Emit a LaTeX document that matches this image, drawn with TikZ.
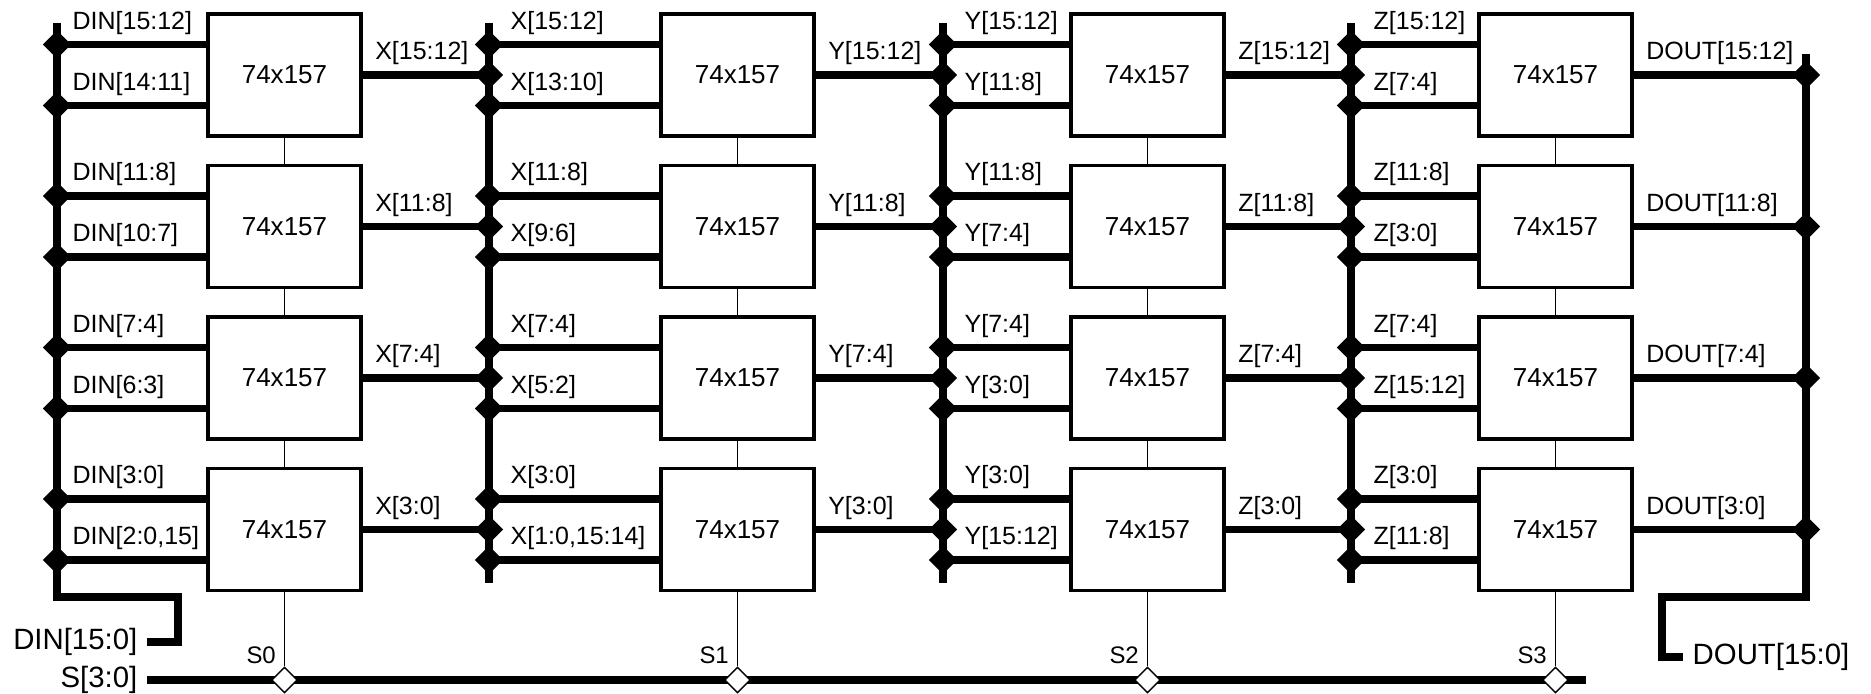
\documentclass[tikz,border=0pt]{standalone}
\usepackage{fontspec}
\setmainfont{Liberation Sans}
\usetikzlibrary{calc,shapes.geometric}

\begin{document}
\begin{tikzpicture}[
  x=0.01cm, y=-0.01cm,
  chipbox/.style={
    rectangle,
    draw=black,
    line width=0.9pt,
    fill=white,
    minimum width=1.53cm,
    minimum height=1.22cm,
    inner sep=0pt,
    font=\fontsize{7.4}{9}\selectfont
  },
  bus/.style={draw=black, line width=2pt},
  ctl/.style={draw=black, line width=0.45pt},
  joint/.style={
    diamond,
    fill=black,
    minimum size=0.29cm,
    inner sep=0pt
  },
  tap/.style={
    diamond,
    draw=black,
    line width=0.4pt,
    fill=white,
    minimum size=0.26cm,
    inner sep=0pt
  },
  sig/.style={
    anchor=base west,
    inner sep=0pt,
    font=\fontsize{7.1}{9}\selectfont
  },
  sel/.style={
    anchor=base east,
    inner sep=0pt,
    font=\fontsize{6.8}{9}\selectfont
  },
  port/.style={
    inner xsep=0.09cm,
    inner ysep=0pt,
    font=\fontsize{8.35}{10}\selectfont
  }
]
\useasboundingbox (0,0) rectangle (1871,694);

\foreach \c/\cl/\bx/\nx/\lx in {0/208/57/489/72, 1/661/489/943/510, 2/1071/943/1351/964, 3/1479/1351/1806/1373} {
  \coordinate (lab\c) at (\lx,0);
  \foreach \r/\cy in {0/75,1/226.5,2/378,3/529.5} {
    \node[chipbox] (chip\c\r) at (\cl+76.5,\cy) {74x157};
    \node[joint] (ina\c\r) at (\bx,\cy-30.5) {};
    \node[joint] (inb\c\r) at (\bx,\cy+30.5) {};
    \node[joint] (out\c\r) at (\nx,\cy) {};
    \draw[bus] (ina\c\r.center) -- (ina\c\r.center -| chip\c\r.west);
    \draw[bus] (inb\c\r.center) -- (inb\c\r.center -| chip\c\r.west);
    \draw[bus] (chip\c\r.east) -- (out\c\r.center);
  }
  \draw[ctl] (chip\c0) -- (chip\c1);
  \draw[ctl] (chip\c1) -- (chip\c2);
  \draw[ctl] (chip\c2) -- (chip\c3);
}

\foreach \id/\ta/\tb/\tc in {
  00/{DIN[15:12]}/{DIN[14:11]}/{X[15:12]},
  01/{DIN[11:8]}/{DIN[10:7]}/{X[11:8]},
  02/{DIN[7:4]}/{DIN[6:3]}/{X[7:4]},
  03/{DIN[3:0]}/{DIN[2:0,15]}/{X[3:0]},
  10/{X[15:12]}/{X[13:10]}/{Y[15:12]},
  11/{X[11:8]}/{X[9:6]}/{Y[11:8]},
  12/{X[7:4]}/{X[5:2]}/{Y[7:4]},
  13/{X[3:0]}/{X[1:0,15:14]}/{Y[3:0]},
  20/{Y[15:12]}/{Y[11:8]}/{Z[15:12]},
  21/{Y[11:8]}/{Y[7:4]}/{Z[11:8]},
  22/{Y[7:4]}/{Y[3:0]}/{Z[7:4]},
  23/{Y[3:0]}/{Y[15:12]}/{Z[3:0]},
  30/{Z[15:12]}/{Z[7:4]}/{DOUT[15:12]},
  31/{Z[11:8]}/{Z[3:0]}/{DOUT[11:8]},
  32/{Z[7:4]}/{Z[15:12]}/{DOUT[7:4]},
  33/{Z[3:0]}/{Z[11:8]}/{DOUT[3:0]}
} {
  \pgfmathtruncatemacro{\col}{int(\id/10)}
  \node[sig, yshift=0.15cm] (la\id) at (lab\col |- ina\id) {\ta};
  \node[sig, yshift=0.15cm] (lb\id) at (lab\col |- inb\id) {\tb};
  \node[sig, xshift=0.12cm, yshift=0.15cm] (lc\id) at (chip\id.east) {\tc};
}

\coordinate (xtop) at (489,23);
\coordinate (xend) at (489,583);
\coordinate (ytop) at (943,23);
\coordinate (yend) at (943,583);
\coordinate (ztop) at (1351,23);
\coordinate (zend) at (1351,583);
\draw[bus] (xtop) -- (xend);
\draw[bus] (ytop) -- (yend);
\draw[bus] (ztop) -- (zend);

\node[port, anchor=base east] (dinall) at (147,649) {DIN[15:0]};
\node[port, anchor=base east] (selall) at (147,687) {S[3:0]};
\node[port, anchor=base west] (doutall) at (1683,664) {DOUT[15:0]};

\coordinate (intop) at (57,23);
\coordinate (inturn) at (57,597);
\coordinate (inbend) at (178,597);
\coordinate (instub) at (178,642);
\draw[bus] (intop) -- (inturn) -- (inbend) -- (instub) -- (dinall.east |- instub);

\coordinate (outtop) at (1806,54);
\coordinate (outturn) at (1806,597);
\coordinate (outbend) at (1662,597);
\coordinate (outstub) at (1662,657);
\draw[bus] (outtop) -- (outturn) -- (outbend) -- (outstub) -- (doutall.west |- outstub);

\coordinate (selend) at (1586,680);
\draw[bus] (selall.east |- selend) -- (selend);

\foreach \c/\t in {0/S0,1/S1,2/S2,3/S3} {
  \node[tap] (tap\c) at (chip\c3.south |- selend) {};
  \draw[ctl] (chip\c3.south) -- (tap\c.north);
  \node[sel, xshift=-0.08cm, yshift=0.16cm] (s\c) at (tap\c) {\t};
}

\end{tikzpicture}
\end{document}
